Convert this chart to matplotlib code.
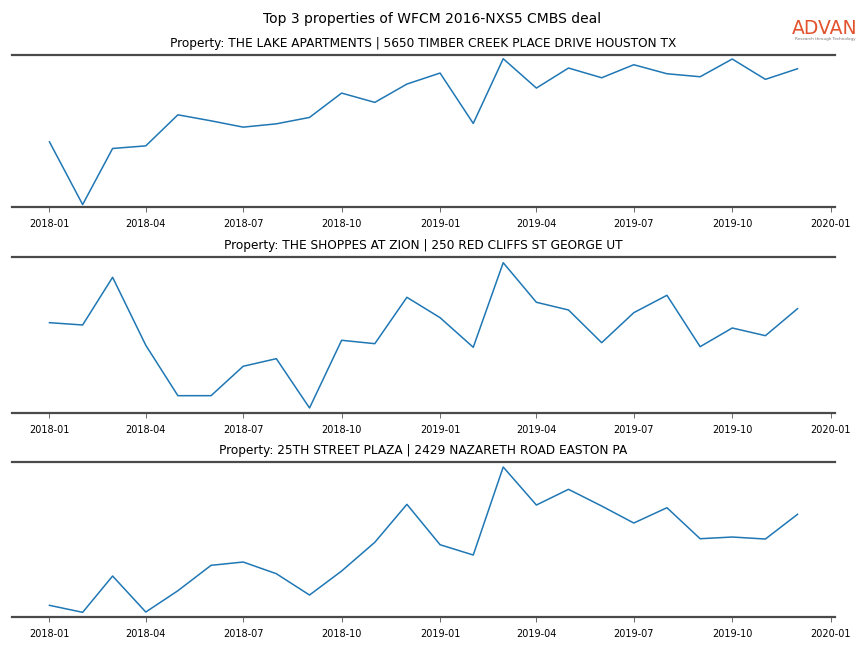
import pandas as pd
import matplotlib
matplotlib.use("Agg")
import matplotlib.pyplot as plt
import matplotlib.dates as mdates


# Data (relative traffic index)
months = pd.date_range("2018-01-01", "2019-12-01", freq="MS")

titles = [
    "Property: THE LAKE APARTMENTS | 5650 TIMBER CREEK PLACE DRIVE HOUSTON TX",
    "Property: THE SHOPPES AT ZION | 250 RED CLIFFS ST GEORGE UT",
    "Property: 25TH STREET PLAZA | 2429 NAZARETH ROAD EASTON PA",
]

lake_apartments = [65.3, 2.7, 58.7, 61.3, 92.3, 86.3, 80.0, 83.3, 89.7, 114.0, 104.7, 123.0,
                   134.0, 83.7, 148.3, 119.0, 139.0, 129.3, 142.3, 133.3, 130.3, 148.0, 127.7, 138.3]
shoppes_at_zion = [90.3, 88.0, 135.7, 67.7, 17.3, 17.3, 46.7, 54.3, 5.0, 72.7, 69.3, 115.7,
                   95.3, 65.7, 150.3, 110.7, 103.0, 70.3, 100.3, 117.7, 66.3, 85.0, 77.3, 104.3]
street_plaza = [11.7, 4.7, 41.0, 5.0, 26.3, 51.7, 55.0, 43.3, 22.0, 46.0, 74.7, 112.7,
                72.3, 62.0, 150.0, 112.0, 127.7, 111.0, 94.0, 109.3, 78.3, 80.0, 78.0, 102.7]

series = [lake_apartments, shoppes_at_zion, street_plaza]
ylims = [(0.3, 152.0), (0.0, 156.0), (0.0, 155.0)]

# axes boxes in figure fractions: [left, bottom, width, height]
boxes = [
    [0.0139, 0.6806, 0.9525, 0.2345],
    [0.0139, 0.3627, 0.9525, 0.2407],
    [0.0139, 0.0478, 0.9525, 0.2392],
]

fig = plt.figure(figsize=(8.64, 6.48), dpi=100)
fig.suptitle("Top 3 properties of WFCM 2016-NXS5 CMBS deal", fontsize=10, y=0.982)

for values, title, box, ylim in zip(series, titles, boxes, ylims):
    ax = fig.add_axes(box)
    ax.plot(months, values, color="#1f77b4", linewidth=1.1)
    ax.set_title(title, fontsize=8.7, pad=6)
    ax.set_ylim(*ylim)
    ax.set_xlim(pd.Timestamp("2017-11-27"), pd.Timestamp("2020-01-05"))

    ax.xaxis.set_major_locator(mdates.MonthLocator(bymonth=[1, 4, 7, 10]))
    ax.xaxis.set_major_formatter(mdates.DateFormatter("%Y-%m"))
    ax.tick_params(axis="x", labelsize=7, length=3.5, width=0.6, color="#555555", pad=5)
    ax.set_yticks([])

    for side in ["left", "right"]:
        ax.spines[side].set_visible(False)
    for side in ["top", "bottom"]:
        ax.spines[side].set_color("#4a4a4a")
        ax.spines[side].set_linewidth(1.6)

# Logo text
fig.text(0.955, 0.956, "ADVAN", color="#e2532d", fontsize=13.5, ha="center", va="center")
fig.text(0.955, 0.940, "Research through Technology", color="#777777", fontsize=3,
         ha="center", va="center")

fig.savefig("out.png", dpi=100)
